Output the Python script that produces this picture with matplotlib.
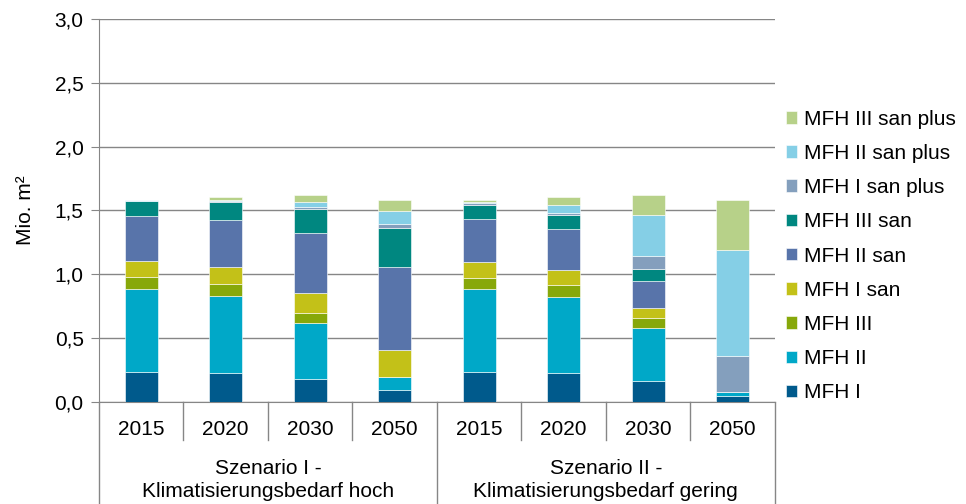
import numpy as np
import matplotlib
matplotlib.use("Agg")
import matplotlib.pyplot as plt
import matplotlib.transforms as mtransforms

plt.rcParams["font.family"] = ["Liberation Sans", "DejaVu Sans"]

jahre = ["2015", "2020", "2030", "2050", "2015", "2020", "2030", "2050"]
szenarien = ["Szenario I -\nKlimatisierungsbedarf hoch",
             "Szenario II -\nKlimatisierungsbedarf gering"]

serien = ["MFH I", "MFH II", "MFH III", "MFH I san", "MFH II san",
          "MFH III san", "MFH I san plus", "MFH II san plus", "MFH III san plus"]

# Werte in Mio. m2, je Balken
mfh_1 = [0.236, 0.228, 0.183, 0.097, 0.236, 0.228, 0.165, 0.047]
mfh_2 = [0.646, 0.604, 0.437, 0.099, 0.646, 0.597, 0.411, 0.032]
mfh_3 = [0.094, 0.095, 0.079, 0.0, 0.092, 0.094, 0.084, 0.0]
mfh_1_san = [0.126, 0.128, 0.157, 0.210, 0.123, 0.115, 0.076, 0.0]
mfh_2_san = [0.353, 0.369, 0.466, 0.652, 0.338, 0.319, 0.212, 0.0]
mfh_3_san = [0.116, 0.144, 0.191, 0.308, 0.110, 0.108, 0.094, 0.0]
mfh_1_san_plus = [0.005, 0.004, 0.016, 0.032, 0.013, 0.023, 0.105, 0.285]
mfh_2_san_plus = [0.003, 0.007, 0.039, 0.099, 0.010, 0.058, 0.316, 0.824]
mfh_3_san_plus = [0.005, 0.026, 0.052, 0.087, 0.016, 0.063, 0.157, 0.396]

werte = [mfh_1, mfh_2, mfh_3, mfh_1_san, mfh_2_san, mfh_3_san,
         mfh_1_san_plus, mfh_2_san_plus, mfh_3_san_plus]

farben = ["#005a8c", "#00a8c8", "#87a80a", "#c3c118", "#5874aa",
          "#008780", "#849fbd", "#85cfe6", "#b7d189"]

grau = "#868686"
fs = 15

fig = plt.figure(figsize=(9.66, 5.04), dpi=100)
ax = fig.add_axes([0.1025, 0.2024, 0.6995, 0.7599])

x = np.arange(len(jahre))
unten = np.zeros(len(jahre))
for name, w, f in zip(serien, werte, farben):
    ax.bar(x, w, width=0.39, bottom=unten, color=f, label=name,
           edgecolor="white", linewidth=0.4, zorder=3)
    unten += np.array(w)

ax.set_xlim(-0.5, len(jahre) - 0.5)
ax.set_ylim(0, 3.0)
ax.set_yticks(np.arange(0, 3.01, 0.5))
ax.set_yticklabels([f"{v:.1f}".replace(".", ",") for v in np.arange(0, 3.01, 0.5)])
ax.yaxis.grid(True, color=grau, linewidth=1, zorder=0)
ax.tick_params(axis="y", length=6, color=grau, labelsize=fs, pad=5)
ax.tick_params(axis="x", length=0, labelbottom=False)
ax.set_ylabel("Mio. m²", fontsize=fs, labelpad=14)

for s in ["top", "right"]:
    ax.spines[s].set_visible(False)
ax.spines["left"].set_color(grau)
ax.spines["bottom"].set_color(grau)

# Kategorienachse mit zwei Ebenen
trans = mtransforms.blended_transform_factory(ax.transData, ax.transAxes)
for i in range(1, len(jahre)):
    if i == 4:
        continue
    ax.plot([i - 0.5, i - 0.5], [0, -0.099], color=grau, lw=1,
            transform=trans, clip_on=False)
for xs in [-0.5, 3.5, 7.5]:
    ax.plot([xs, xs], [0, -0.27], color=grau, lw=1,
            transform=trans, clip_on=False)

for i, j in enumerate(jahre):
    ax.text(i, -0.073, j, transform=trans, ha="center", va="center",
            fontsize=fs)
for g, s in enumerate(szenarien):
    ax.text(1.5 + 4 * g, -0.204, s, transform=trans, ha="center",
            va="center", fontsize=fs, linespacing=1.28)

handles, labels = ax.get_legend_handles_labels()
fig.legend(handles[::-1], labels[::-1], loc="center left",
           bbox_to_anchor=(0.805, 0.492), frameon=False, fontsize=fs,
           handlelength=0.55, handleheight=0.55, handletextpad=0.3,
           labelspacing=0.73, borderaxespad=0)

fig.savefig("out.png", dpi=100)
